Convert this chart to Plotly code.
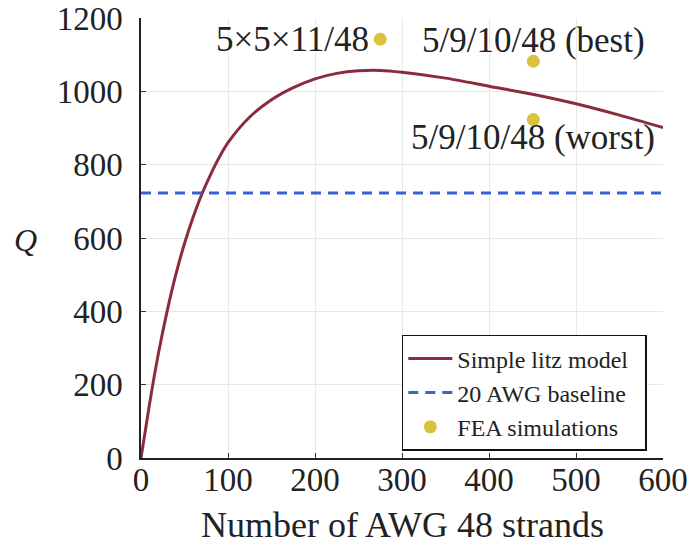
import plotly.graph_objects as go

# Simple litz model curve
model_n = [0, 10, 20, 30, 40, 50, 60, 70, 80, 90, 100, 125, 150, 175, 200, 225, 250, 275, 300, 350, 400, 450, 500, 550, 600]
model_q = [0, 150, 285, 400, 500, 585, 657, 720, 773, 820, 860, 930, 977, 1010, 1034, 1049, 1056, 1057, 1052, 1036, 1014, 992, 966, 935, 901]

# 20 AWG baseline
baseline_n = [0, 600]
baseline_q = [723, 723]

# FEA simulations
fea_n = [275, 451, 451]
fea_q = [1142, 1082, 923]
fea_labels = ["5×5×11/48", "5/9/10/48 (best)", "5/9/10/48 (worst)"]

x_ticks = [0, 100, 200, 300, 400, 500, 600]
y_ticks = [0, 200, 400, 600, 800, 1000, 1200]

FONT = "Liberation Serif, DejaVu Serif, serif"
TXT = "#222"
NB = "\u00a0"

fig = go.Figure()
fig.add_trace(go.Scatter(x=model_n, y=model_q, mode="lines", name="Simple litz model" + NB * 2,
                         line=dict(color="#8a2c3e", width=3, shape="spline", smoothing=0.8)))
fig.add_trace(go.Scatter(x=baseline_n, y=baseline_q, mode="lines", name="20 AWG baseline",
                         line=dict(color="#3a62cc", width=3, dash="10px,7px")))
fig.add_trace(go.Scatter(x=fea_n, y=fea_q, mode="markers", name="FEA simulations",
                         marker=dict(color="#d9c23c", size=13)))

# annotations
fig.add_annotation(x=fea_n[0], y=fea_q[0], text=fea_labels[0], showarrow=False,
                   xanchor="right", yanchor="middle", xshift=-9, font=dict(size=35, color=TXT))
fig.add_annotation(x=fea_n[1], y=fea_q[1], text=fea_labels[1], showarrow=False,
                   xanchor="center", yanchor="middle", yshift=21, font=dict(size=35, color=TXT))
fig.add_annotation(x=fea_n[2], y=fea_q[2], text=fea_labels[2], showarrow=False,
                   xanchor="center", yanchor="middle", yshift=-18, font=dict(size=35, color=TXT))
fig.add_annotation(xref="paper", yref="paper", x=-0.222, y=0.495, text="<i>Q</i>", showarrow=False,
                   xanchor="center", yanchor="middle", font=dict(size=32, color=TXT))
fig.add_annotation(xref="paper", yref="paper", x=0.5, y=-0.152, text="Number of AWG 48 strands",
                   showarrow=False, xanchor="center", yanchor="middle", font=dict(size=36, color=TXT))

fig.update_layout(
    width=688, height=550,
    margin=dict(l=141, r=25, t=18, b=92, autoexpand=False),
    paper_bgcolor="white", plot_bgcolor="white",
    font=dict(family=FONT, size=33, color=TXT),
    showlegend=True,
    legend=dict(x=0.969, y=0.28, xanchor="right", yanchor="top",
                bgcolor="white", bordercolor="#111", borderwidth=1.5,
                font=dict(size=24, color=TXT), itemwidth=44, tracegroupgap=0),
    xaxis=dict(range=[0, 600], tickvals=x_ticks, ticks="inside", ticklen=5, tickcolor="#333",
               showline=True, linecolor="#222", linewidth=1.5, mirror=False, automargin=False,
               showgrid=True, gridcolor="#e8e8e8", gridwidth=1, zeroline=False,
               tickfont=dict(size=33), ticklabelstandoff=-8, ticklabeloverflow="allow"),
    yaxis=dict(range=[0, 1200], tickvals=y_ticks, ticks="inside", ticklen=5, tickcolor="#333",
               showline=True, linecolor="#222", linewidth=1.5, mirror=False, automargin=False,
               showgrid=True, gridcolor="#e8e8e8", gridwidth=1, zeroline=False,
               tickfont=dict(size=33), ticklabelstandoff=10, ticklabeloverflow="allow"),
)

fig.write_html("out.html", config={"displayModeBar": False},
               post_script="document.body.style.margin='0';document.body.style.overflow='hidden';")
